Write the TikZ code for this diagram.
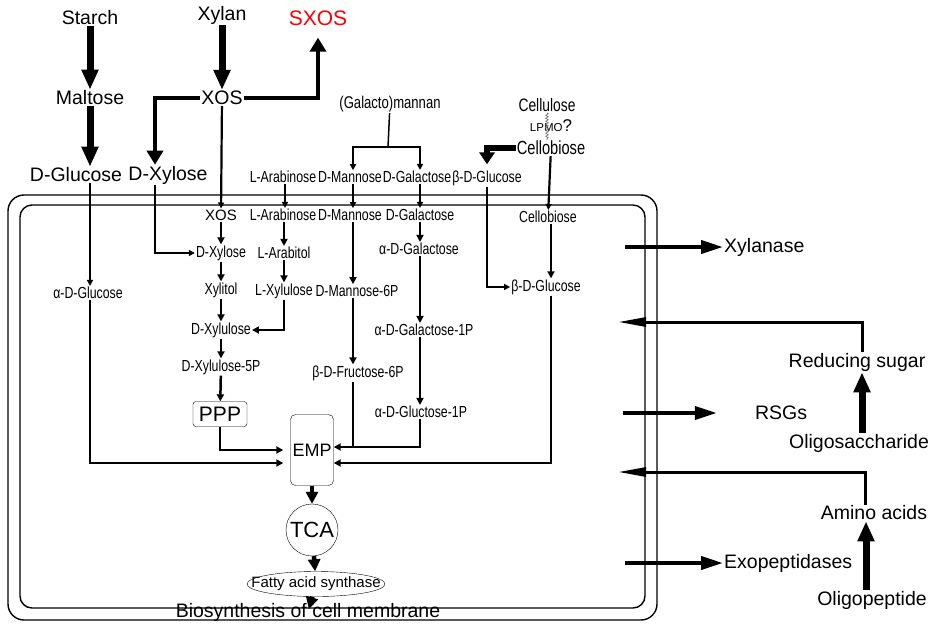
\documentclass[tikz,border=0pt]{standalone}
\usepackage{fontspec}
\setmainfont{Liberation Sans}
\newfontfamily\narrowsf[FakeStretch=0.77]{Liberation Sans}
\usepackage{tikz}
\usetikzlibrary{arrows.meta,shapes.geometric,decorations.pathmorphing}

\tikzset{
  bigtext/.style={inner sep=1pt, font=\fontsize{19.5}{21}\selectfont},
  celltext/.style={inner sep=1pt, font=\narrowsf\fontsize{16}{17}\selectfont},
  bigarrow/.style={line width=7pt, -{Triangle[length=20pt,width=16pt]}},
  medarrow/.style={line width=4pt, -{Triangle[length=14pt,width=16pt]}},
  steparrow/.style={line width=2.5pt, -{Triangle[length=7pt,width=7pt]}},
  entryarrow/.style={line width=2.2pt, -{Triangle[length=6pt,width=6pt]}},
  exparrow/.style={line width=4pt, -{Triangle[length=22pt,width=13pt]}},
  imparrow/.style={line width=3pt, -{Triangle[length=28pt,width=9pt]}},
  coremarrow/.style={line width=4.5pt, -{Triangle[length=12pt,width=12pt]}},
  membrane/.style={line width=1.4pt},
}

\begin{document}
\begin{tikzpicture}[x=1pt, y=-1pt]
  \useasboundingbox (0,0) rectangle (937,625);

  \draw[membrane, rounded corners=16pt] (8,195) rectangle (657,620);
  \draw[membrane, rounded corners=12pt] (20,205) rectangle (645,608);

  \node[bigtext] (starch) at (90,18) {Starch};
  \node[bigtext] (maltose) at (90,98) {Maltose};
  \node[bigtext] (glcout) at (76,175) {D-Glucose};
  \node[bigtext] (xylan) at (222,15) {Xylan};
  \node[bigtext] (xosout) at (222,98) {XOS};
  \node[bigtext] (xylout) at (168,175) {D-Xylose};
  \node[bigtext, text=red, font=\fontsize{21}{22}\selectfont] (sxos) at (318,18) {SXOS};

  \node[celltext, font=\narrowsf\fontsize{17}{18}\selectfont] (galman) at (390,104) {(Galacto)mannan};
  \node[celltext, font=\narrowsf\fontsize{18}{19}\selectfont] (cellulose) at (547,105) {Cellulose};
  \node[inner sep=0pt] (lpmo) at (551,126) {\fontsize{11.5}{12}\selectfont LPMO\fontsize{17}{17}\selectfont ?};
  \node[celltext, font=\narrowsf\fontsize{19}{20}\selectfont] (cellout) at (551,148) {Cellobiose};
  \coordinate (split) at (388,147);

  \node[celltext] (araout) at (283,177) {L-Arabinose};
  \node[celltext] (manout) at (350,177) {D-Mannose};
  \node[celltext] (galout) at (417,177) {D-Galactose};
  \node[celltext] (bglcout) at (487,178) {β-D-Glucose};

  \node[celltext, font=\fontsize{15}{16}\selectfont] (xosin) at (221,215) {XOS};
  \node[celltext] (arain) at (283,215) {L-Arabinose};
  \node[celltext] (manin) at (350,215) {D-Mannose};
  \node[celltext] (galin) at (420,215) {D-Galactose};
  \node[celltext] (cellin) at (548,217) {Cellobiose};
  \node[celltext] (xylin) at (221,253) {D-Xylose};
  \node[celltext] (arabitol) at (284,253) {L-Arabitol};
  \node[celltext] (agal) at (419,249) {α-D-Galactose};
  \node[celltext] (xylitol) at (221,290) {Xylitol};
  \node[celltext] (lxylu) at (284,291) {L-Xylulose};
  \node[celltext] (man6p) at (357,291) {D-Mannose-6P};
  \node[celltext] (glcin) at (88,293) {α-D-Glucose};
  \node[celltext] (bglcin) at (546,287) {β-D-Glucose};
  \node[celltext] (xylu) at (221,330) {D-Xylulose};
  \node[celltext] (agal1p) at (424,330) {α-D-Galactose-1P};
  \node[celltext] (xylu5p) at (221,367) {D-Xylulose-5P};
  \node[celltext] (fru6p) at (358,373) {β-D-Fructose-6P};
  \node[celltext] (glc1p) at (421,412) {α-D-Gluctose-1P};
  \coordinate (mancol) at ([xshift=3pt]manin.south);

  \node[draw, rounded corners=3pt, minimum width=54pt, minimum height=25pt, inner sep=1pt, font=\fontsize{21}{22}\selectfont] (ppp) at (220,414) {PPP};
  \node[draw, rounded corners=5pt, minimum width=43pt, minimum height=71pt, inner sep=0pt, font=\fontsize{18}{19}\selectfont] (emp) at (312,450) {EMP};
  \node[draw, circle, minimum size=52pt, inner sep=0pt, font=\fontsize{22}{23}\selectfont] (tca) at (312,530) {TCA};
  \node[draw, ellipse, minimum width=138pt, minimum height=25pt, inner sep=0pt, font=\fontsize{15}{16}\selectfont] (fas) at (316,584) {\makebox[0pt]{Fatty acid synthase}};
  \node[bigtext] (bio) at (308,612) {Biosynthesis of cell membrane};

  \node[bigtext, anchor=west] (xylanase) at (723,247) {Xylanase};
  \node[bigtext] (rsgs) at (781,413) {RSGs};
  \node[bigtext, anchor=west] (exo) at (723,563) {Exopeptidases};
  \node[bigtext] (redsug) at (857,362) {Reducing sugar};
  \node[bigtext] (oligos) at (859,443) {Oligosaccharide};
  \node[bigtext] (amino) at (874,513) {Amino acids};
  \node[bigtext] (oligop) at (872,600) {Oligopeptide};
  \coordinate (xylsrc) at (625,247);
  \coordinate (rsgsrc) at (623,413);
  \coordinate (exosrc) at (625,563);
  \coordinate (sugdst) at (618,322);
  \coordinate (aadst) at (618,472);

  \draw[bigarrow] (starch) -- (maltose);
  \draw[bigarrow] (maltose) -- (maltose |- glcout.north);
  \draw[bigarrow] (xylan) -- (xosout);
  \draw[medarrow] (xosout.west) -| ([xshift=-13pt]xylout.north);
  \draw[medarrow] (xosout.east) -| ([yshift=-11pt]sxos.south);
  \draw[entryarrow] (xosout) -- (xosin);
  \draw[line width=6pt, -{Triangle[length=12pt,width=15pt]}] (cellout.west) -| ([yshift=5pt]bglcout.north);
  \draw[gray, line width=0.8pt, decorate, decoration={snake, amplitude=1.2pt, segment length=3pt}] (cellulose.south) -- (cellulose.south |- cellout.north);
  \draw[line width=1.5pt] (galman) -- (split);
  \draw[line width=1.5pt, -{Triangle[length=6pt,width=6pt]}] (split) -| (mancol |- manout.north);
  \draw[line width=1.5pt, -{Triangle[length=6pt,width=6pt]}] (split) -| (galin.north |- galout.north);

  \draw[entryarrow] (maltose |- glcout.south) -- (maltose |- glcin.north);
  \draw[entryarrow] ([xshift=-13pt]xylout.south) |- (xylin.west);
  \draw[entryarrow] ([xshift=2pt]araout.south) -- ([xshift=2pt]arain.north);
  \draw[entryarrow] (mancol |- manout.south) -- (mancol |- manin.north);
  \draw[entryarrow] (galout.south -| galin.north) -- (galin.north);
  \draw[entryarrow] (cellout) -- (cellin);
  \draw[entryarrow] (bglcout.south) |- (bglcin.west);

  \draw[steparrow] (xosin) -- (xylin);
  \draw[steparrow] (xylin) -- (xylitol);
  \draw[steparrow] (xylitol) -- (xylu);
  \draw[steparrow] (xylu) -- (xylu5p);
  \draw[steparrow] (xylu5p) -- (ppp);
  \draw[steparrow] (arain.south -| arabitol.north) -- (arabitol);
  \draw[steparrow] (arabitol) -- (lxylu);
  \draw[steparrow] (lxylu.south) |- (xylu.east);
  \draw[steparrow] (mancol) -- (mancol |- man6p.north);
  \draw[steparrow] (mancol |- man6p.south) -- (mancol |- fru6p.north);
  \draw[line width=2.5pt] (mancol |- fru6p.south) -- ([yshift=3pt]emp.east -| mancol);
  \draw[steparrow] (galin) -- (agal.north -| galin.south);
  \draw[steparrow] (agal.south -| galin.south) -- (galin.south |- agal1p.north);
  \draw[steparrow] (galin.south |- agal1p.south) -- (galin.south |- glc1p.north);
  \draw[steparrow] (galin.south |- glc1p.south) |- ([yshift=3pt]emp.east);
  \draw[steparrow] (cellin.south -| cellout.south) -- (bglcin.north -| cellout.south);
  \draw[steparrow, shorten >=7pt] (ppp.south) |- (emp.west);
  \draw[steparrow, shorten >=7pt] (maltose |- glcin.south) |- ([yshift=-13pt]emp.west);
  \draw[steparrow] (bglcin.south -| cellout.south) |- ([yshift=-13pt]emp.east);
  \draw[coremarrow] (emp) -- (tca);
  \draw[coremarrow] (tca) -- (fas);
  \draw[coremarrow, shorten >=3pt] (fas) -- (bio.center);

  \draw[exparrow] (xylsrc) -- (xylanase.west);
  \draw[exparrow] (rsgsrc) -- ([xshift=-37pt]rsgs.west);
  \draw[exparrow] (exosrc) -- (exo.west);
  \draw[imparrow] ([xshift=5pt]redsug.north) |- (sugdst);
  \draw[bigarrow] ([xshift=3pt]oligos.north) -- ([xshift=3pt]oligos.north |- redsug.south);
  \draw[imparrow] ([xshift=-9pt]amino.north) |- (aadst);
  \draw[bigarrow] ([xshift=-6pt]oligop.north) -- ([xshift=-6pt]oligop.north |- amino.south);
\end{tikzpicture}
\end{document}
